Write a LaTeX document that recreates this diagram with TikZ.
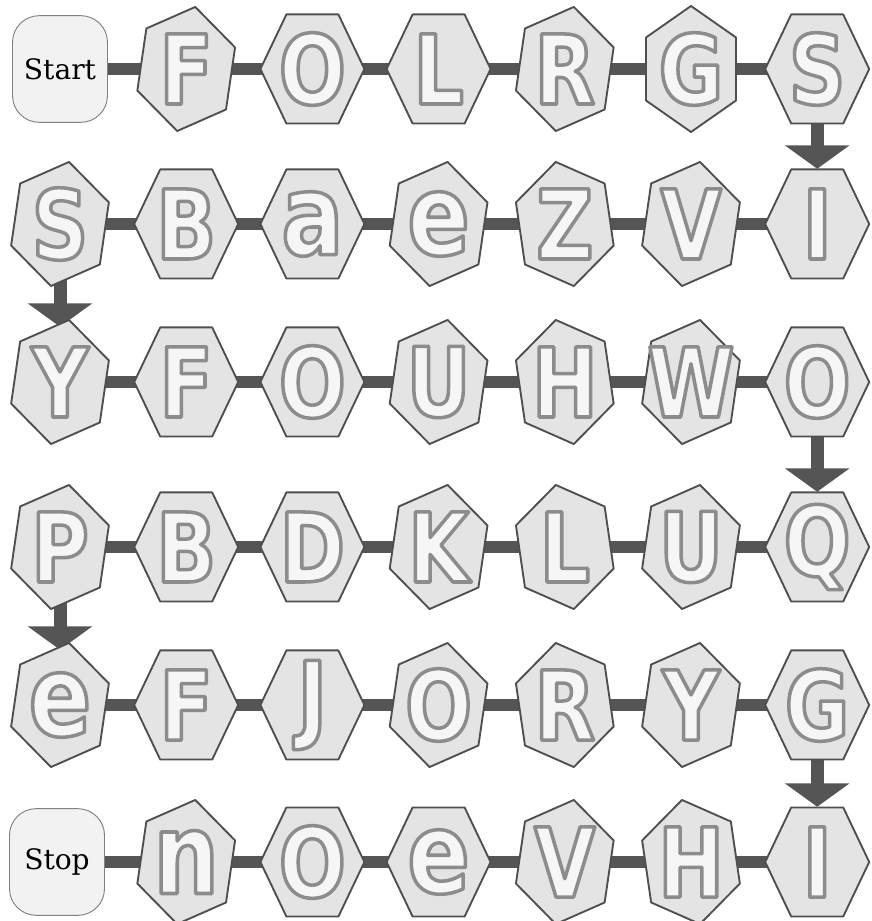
\documentclass[tikz,border=0pt]{standalone}
\usepackage{fontspec}
\usetikzlibrary{
    arrows.meta,
    backgrounds
}
\newfontfamily\blockfont[FakeStretch=0.82]{DejaVu Sans}
\newfontfamily\labelfont{DejaVu Serif}
\definecolor{hexfill}{HTML}{E4E4E4}
\definecolor{hexedge}{HTML}{4F4F4F}
\definecolor{linkgray}{HTML}{555555}
\definecolor{boxfill}{HTML}{F2F2F2}
\definecolor{boxedge}{HTML}{808080}
\definecolor{letterfill}{HTML}{F6F6F6}
% hohle Buchstaben: Fuellung hell, Umriss grau
\newcommand{\hexletter}[1]{\textcolor{letterfill}{\special{pdf:code 2 Tr 3 w 1 j 0.55 G}#1\special{pdf:code 0 Tr}}}
\newcommand{\lowhex}[1]{{\fontsize{96}{96}\selectfont #1}}
\tikzstyle{hexa} = [fill=hexfill,draw=hexedge,line width=1.6pt,line join=round]
\tikzstyle{letter} = [inner sep=0pt,minimum width=3.1cm,minimum height=3.3cm,
    font=\blockfont\bfseries\fontsize{82}{82}\selectfont]
\tikzstyle{endbox} = [fill=boxfill,draw=boxedge,line width=0.8pt,rounded corners=0.8cm,
    minimum width=2.85cm,minimum height=3.2cm,font=\labelfont\fontsize{24}{24}\selectfont]
\tikzstyle{link} = [draw=linkgray,line width=0.36cm]
\tikzstyle{flow} = [draw=linkgray,line width=0.39cm,-{Triangle[width=1.9cm,length=0.7cm]}]

\begin{document}
\begin{tikzpicture}[x=0.03cm,y=0.03cm]

    \useasboundingbox (0,0) rectangle (872,921);

    % Start und Stop
    \node[endbox,alias=r1-1] (start) at (60,852) {Start};
    \node[endbox,alias=r6-1] (stop) at (57,59) {Stop};

    % Reihe 1
    \foreach \c/\ang/\txt in {2/20/F,3/0/O,4/0/L,5/20/R,6/30/G,7/0/S} {
        \pgfmathsetmacro{\cx}{60+(\c-1)*126.2}
        \filldraw[hexa,shift={(\cx,852)}] (\ang:52 and 63) -- (\ang+60:52 and 63)
            -- (\ang+120:52 and 63) -- (\ang+180:52 and 63)
            -- (\ang+240:52 and 63) -- (\ang+300:52 and 63) -- cycle;
        \node[letter] (r1-\c) at (\cx,852) {\hexletter{\txt}};
    }

    % Reihe 2
    \foreach \c/\ang/\txt in {1/20/S,2/0/B,3/0/{\lowhex{a}},4/20/{\lowhex{e}},5/-20/Z,6/20/V,7/0/I} {
        \pgfmathsetmacro{\cx}{60+(\c-1)*126.2}
        \filldraw[hexa,shift={(\cx,697)}] (\ang:52 and 63) -- (\ang+60:52 and 63)
            -- (\ang+120:52 and 63) -- (\ang+180:52 and 63)
            -- (\ang+240:52 and 63) -- (\ang+300:52 and 63) -- cycle;
        \node[letter] (r2-\c) at (\cx,697) {\hexletter{\txt}};
    }

    % Reihe 3
    \foreach \c/\ang/\txt in {1/20/Y,2/0/F,3/0/O,4/20/U,5/-20/H,6/20/W,7/0/O} {
        \pgfmathsetmacro{\cx}{60+(\c-1)*126.2}
        \filldraw[hexa,shift={(\cx,539)}] (\ang:52 and 63) -- (\ang+60:52 and 63)
            -- (\ang+120:52 and 63) -- (\ang+180:52 and 63)
            -- (\ang+240:52 and 63) -- (\ang+300:52 and 63) -- cycle;
        \node[letter] (r3-\c) at (\cx,539) {\hexletter{\txt}};
    }

    % Reihe 4
    \foreach \c/\ang/\txt in {1/20/P,2/0/B,3/0/D,4/20/K,5/-20/L,6/20/U,7/0/Q} {
        \pgfmathsetmacro{\cx}{60+(\c-1)*126.2}
        \filldraw[hexa,shift={(\cx,374)}] (\ang:52 and 63) -- (\ang+60:52 and 63)
            -- (\ang+120:52 and 63) -- (\ang+180:52 and 63)
            -- (\ang+240:52 and 63) -- (\ang+300:52 and 63) -- cycle;
        \node[letter] (r4-\c) at (\cx,374) {\hexletter{\txt}};
    }

    % Reihe 5
    \foreach \c/\ang/\txt in {1/20/{\lowhex{e}},2/0/F,3/0/J,4/20/O,5/-20/R,6/20/Y,7/0/G} {
        \pgfmathsetmacro{\cx}{60+(\c-1)*126.2}
        \filldraw[hexa,shift={(\cx,216)}] (\ang:52 and 63) -- (\ang+60:52 and 63)
            -- (\ang+120:52 and 63) -- (\ang+180:52 and 63)
            -- (\ang+240:52 and 63) -- (\ang+300:52 and 63) -- cycle;
        \node[letter] (r5-\c) at (\cx,216) {\hexletter{\txt}};
    }

    % Reihe 6
    \foreach \c/\ang/\txt in {2/20/{\lowhex{n}},3/0/O,4/0/{\lowhex{e}},5/20/V,6/-20/H,7/0/I} {
        \pgfmathsetmacro{\cx}{60+(\c-1)*126.2}
        \filldraw[hexa,shift={(\cx,59)}] (\ang:52 and 63) -- (\ang+60:52 and 63)
            -- (\ang+120:52 and 63) -- (\ang+180:52 and 63)
            -- (\ang+240:52 and 63) -- (\ang+300:52 and 63) -- cycle;
        \node[letter] (r6-\c) at (\cx,59) {\hexletter{\txt}};
    }

    % Verbindungen hinter den Feldern
    \begin{pgfonlayer}{background}
        \foreach \r in {1,...,6} {
            \foreach \c [evaluate=\c as \n using int(\c+1)] in {1,...,6}
                \draw[link] (r\r-\c.center) -- (r\r-\n.center);
        }
        \draw[flow] (r1-7.center) -- (r2-7.north);
        \draw[flow] (r2-1.center) -- (r3-1.north);
        \draw[flow] (r3-7.center) -- (r4-7.north);
        \draw[flow] (r4-1.center) -- (r5-1.north);
        \draw[flow] (r5-7.center) -- (r6-7.north);
    \end{pgfonlayer}

\end{tikzpicture}
\end{document}
